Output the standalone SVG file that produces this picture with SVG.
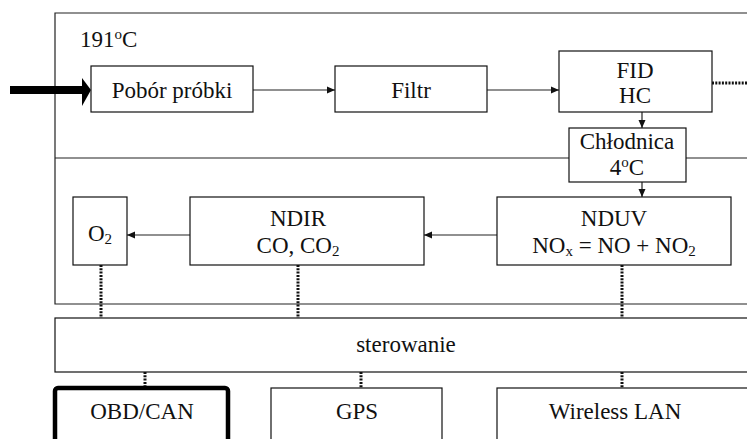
<svg xmlns="http://www.w3.org/2000/svg" width="747" height="439" viewBox="0 0 747 439">
<defs>
<style>
.box{fill:#fff;stroke:#111;stroke-width:1.2}
.frame{fill:none;stroke:#222;stroke-width:1.2}
.t{font-family:"Liberation Serif","Times New Roman",serif;font-size:23px;fill:#111;text-anchor:middle}
.ln{stroke:#222;stroke-width:1.2;fill:none}
.dot{stroke:#111;stroke-width:3;stroke-dasharray:2 1.3;fill:none}
.sub{font-size:15px}
</style>
<marker id="ah" markerWidth="8" markerHeight="8" refX="8" refY="4" orient="auto" markerUnits="userSpaceOnUse">
<path d="M0,0.5 L8,4 L0,7.5 Z" fill="#111"/>
</marker>
</defs>

<g id="frame">
<path class="frame" d="M747,13 H55 V304 H747"/>
<line class="ln" x1="55" y1="158" x2="747" y2="158"/>
</g>

<text class="t" x="80" y="47" style="text-anchor:start">191<tspan class="sub" dy="-8">o</tspan><tspan dy="8">C</tspan></text>

<g id="connectors">
<line x1="10" y1="90" x2="84" y2="90" stroke="#000" stroke-width="8"/>
<path d="M82,78 L91,90 L82,106 Z" fill="#000"/>
<line class="ln" x1="253" y1="90" x2="335" y2="90" marker-end="url(#ah)"/>
<line class="ln" x1="487" y1="90" x2="559" y2="90" marker-end="url(#ah)"/>
<line class="dot" x1="712" y1="83" x2="747" y2="83" stroke-width="2.5"/>
<line class="ln" x1="642" y1="112" x2="642" y2="128" marker-end="url(#ah)"/>
<line class="ln" x1="642" y1="182" x2="642" y2="197" marker-end="url(#ah)"/>
<line class="ln" x1="497" y1="235" x2="424" y2="235" marker-end="url(#ah)"/>
<line class="ln" x1="190" y1="235" x2="127" y2="235" marker-end="url(#ah)"/>
<line class="dot" x1="101" y1="265" x2="101" y2="318"/>
<line class="dot" x1="298" y1="265" x2="298" y2="318"/>
<line class="dot" x1="622" y1="265" x2="622" y2="318"/>
<line class="dot" x1="145" y1="372" x2="145" y2="388"/>
<line class="dot" x1="361" y1="372" x2="361" y2="388"/>
<line class="dot" x1="622" y1="372" x2="622" y2="388"/>
</g>

<g id="pobor">
<rect class="box" x="91" y="66" width="162" height="46"/>
<text class="t" x="172" y="98">Pobór próbki</text>
</g>
<g id="filtr">
<rect class="box" x="335" y="66" width="152" height="46"/>
<text class="t" x="411" y="98">Filtr</text>
</g>
<g id="fid">
<rect class="box" x="559" y="51" width="153" height="61"/>
<text class="t" x="635" y="78">FID</text>
<text class="t" x="635" y="103">HC</text>
</g>
<g id="chlodnica">
<rect class="box" x="569" y="128" width="117" height="54"/>
<text class="t" x="627" y="149">Chłodnica</text>
<text class="t" x="627" y="175">4<tspan class="sub" dy="-8">o</tspan><tspan dy="8">C</tspan></text>
</g>
<g id="nduv">
<rect class="box" x="497" y="197" width="234" height="68"/>
<text class="t" x="614" y="226">NDUV</text>
<text class="t" x="614" y="253">NO<tspan class="sub" dy="3">x</tspan><tspan dy="-3"> = NO + NO</tspan><tspan class="sub" dy="3">2</tspan></text>
</g>
<g id="ndir">
<rect class="box" x="190" y="197" width="234" height="68"/>
<text class="t" x="298" y="226">NDIR</text>
<text class="t" x="298" y="253">CO, CO<tspan class="sub" dy="3">2</tspan></text>
</g>
<g id="o2">
<rect class="box" x="73" y="197" width="54" height="68"/>
<text class="t" x="100" y="241">O<tspan class="sub" dy="3">2</tspan></text>
</g>
<g id="sterowanie">
<rect class="box" x="55" y="318" width="700" height="54"/>
<text class="t" x="406" y="352">sterowanie</text>
</g>
<g id="obd">
<rect x="55" y="388" width="173" height="60" rx="3" fill="#fff" stroke="#000" stroke-width="4.5"/>
<text class="t" x="142" y="419">OBD/CAN</text>
</g>
<g id="gps">
<rect class="box" x="271" y="388" width="171" height="60"/>
<text class="t" x="357" y="419">GPS</text>
</g>
<g id="wlan">
<rect class="box" x="497" y="388" width="260" height="60"/>
<text class="t" x="615" y="419">Wireless LAN</text>
</g>
</svg>
